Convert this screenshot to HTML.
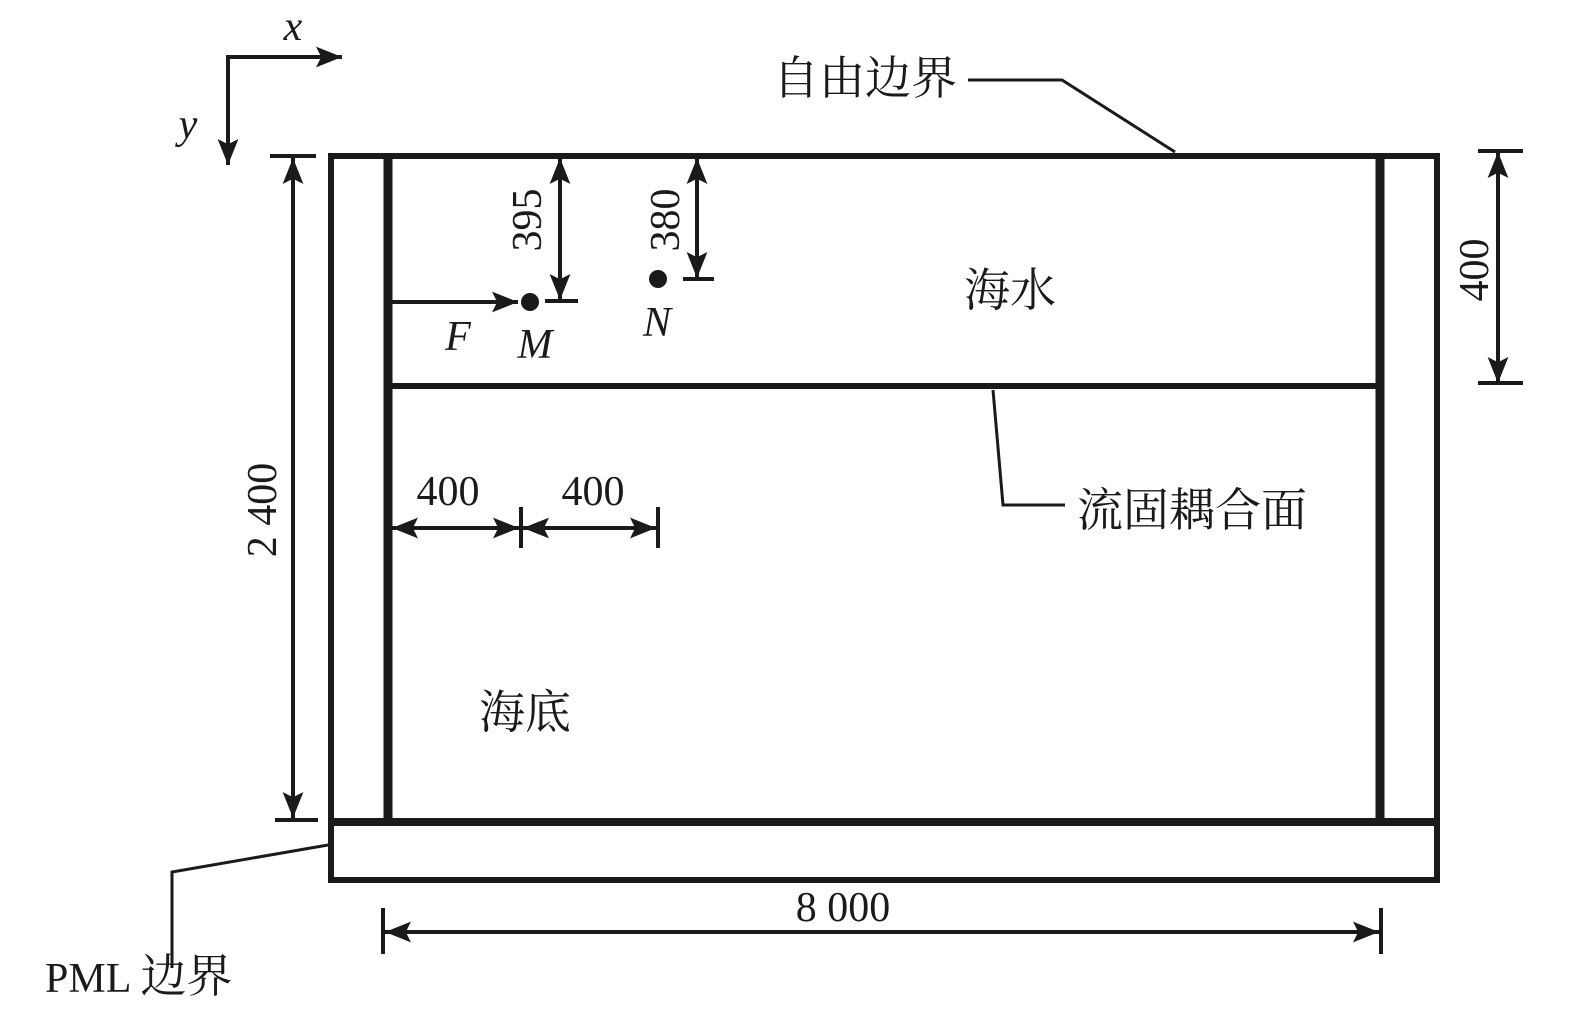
<!DOCTYPE html>
<html><head><meta charset="utf-8"><style>
html,body{margin:0;padding:0;background:#fff;}
svg text{font-family:"Liberation Serif","Noto Serif CJK SC",serif;fill:#1a1a1a;}
.cjk{font-family:"Noto Serif CJK SC","Noto Sans CJK SC",serif;font-size:46px;}
</style></head><body>
<svg width="1575" height="1014" viewBox="0 0 1575 1014" xmlns="http://www.w3.org/2000/svg">
<defs>
<marker id="b" viewBox="0 0 10 10" refX="10" refY="5" markerWidth="26" markerHeight="26" orient="auto-start-reverse" markerUnits="userSpaceOnUse"><path d="M0,1 L10,5 L0,9 L2,5 z" fill="#1a1a1a"/></marker>
</defs>
<g stroke="#1a1a1a" fill="none">
<polyline points="228,165 228,57 342,57" stroke-width="4" marker-start="url(#b)" marker-end="url(#b)"/>
<rect x="331" y="156" width="1106" height="724" stroke-width="6"/>
<line x1="388" y1="156" x2="388" y2="822" stroke-width="9"/>
<line x1="1380" y1="156" x2="1380" y2="822" stroke-width="9"/>
<line x1="331" y1="822" x2="1437" y2="822" stroke-width="8"/>
<line x1="388" y1="386" x2="1380" y2="386" stroke-width="6"/>
<line x1="293" y1="158" x2="293" y2="818" stroke-width="4" marker-start="url(#b)" marker-end="url(#b)"/>
<line x1="270" y1="156" x2="316" y2="156" stroke-width="4"/>
<line x1="275" y1="820" x2="318" y2="820" stroke-width="4"/>
<line x1="560" y1="158" x2="560" y2="300" stroke-width="4" marker-start="url(#b)" marker-end="url(#b)"/>
<line x1="545" y1="301" x2="578" y2="301" stroke-width="4"/>
<line x1="697" y1="158" x2="697" y2="278" stroke-width="4" marker-start="url(#b)" marker-end="url(#b)"/>
<line x1="683" y1="279" x2="714" y2="279" stroke-width="4"/>
<line x1="1498" y1="152" x2="1498" y2="383" stroke-width="4" marker-start="url(#b)" marker-end="url(#b)"/>
<line x1="1478" y1="151" x2="1523" y2="151" stroke-width="4"/>
<line x1="1478" y1="383" x2="1523" y2="383" stroke-width="4"/>
<line x1="392" y1="302" x2="518" y2="302" stroke-width="4" marker-end="url(#b)"/>
<line x1="392" y1="528" x2="519" y2="528" stroke-width="4" marker-start="url(#b)" marker-end="url(#b)"/>
<line x1="523" y1="528" x2="656" y2="528" stroke-width="4" marker-start="url(#b)" marker-end="url(#b)"/>
<line x1="521" y1="507" x2="521" y2="548" stroke-width="4"/>
<line x1="658" y1="507" x2="658" y2="548" stroke-width="4"/>
<line x1="385" y1="932" x2="1379" y2="932" stroke-width="4" marker-start="url(#b)" marker-end="url(#b)"/>
<line x1="383" y1="908" x2="383" y2="954" stroke-width="4"/>
<line x1="1381" y1="908" x2="1381" y2="954" stroke-width="4"/>
<polyline points="968,80 1062,80 1175,152" stroke-width="3"/>
<polyline points="993,390 1003,505 1065,505" stroke-width="3"/>
<polyline points="172,968 172,872 328,845" stroke-width="3"/>
</g>
<circle cx="530" cy="302" r="9" fill="#1a1a1a"/>
<circle cx="658" cy="279" r="9" fill="#1a1a1a"/>
<g font-size="42">
<text x="293" y="40" text-anchor="middle" font-style="italic">x</text>
<text x="188" y="138" text-anchor="middle" font-style="italic">y</text>
<text x="458" y="350" text-anchor="middle" font-style="italic">F</text>
<text x="535" y="358" text-anchor="middle" font-style="italic">M</text>
<text x="657" y="336" text-anchor="middle" font-style="italic">N</text>
<text x="448" y="505" text-anchor="middle">400</text>
<text x="593" y="505" text-anchor="middle">400</text>
<text x="843" y="921" text-anchor="middle">8 000</text>
<text transform="translate(276,510) rotate(-90)" text-anchor="middle">2 400</text>
<text transform="translate(541,220) rotate(-90)" text-anchor="middle">395</text>
<text transform="translate(679,220) rotate(-90)" text-anchor="middle">380</text>
<text transform="translate(1488,270) rotate(-90)" text-anchor="middle">400</text>
<text x="45" y="992">PML <tspan class="cjk">边界</tspan></text>
<text class="cjk" x="865" y="94" text-anchor="middle">自由边界</text>
<text class="cjk" x="1010" y="306" text-anchor="middle">海水</text>
<text class="cjk" x="525" y="728" text-anchor="middle">海底</text>
<text class="cjk" x="1192" y="526" text-anchor="middle">流固耦合面</text>
</g>
</svg>
</body></html>
